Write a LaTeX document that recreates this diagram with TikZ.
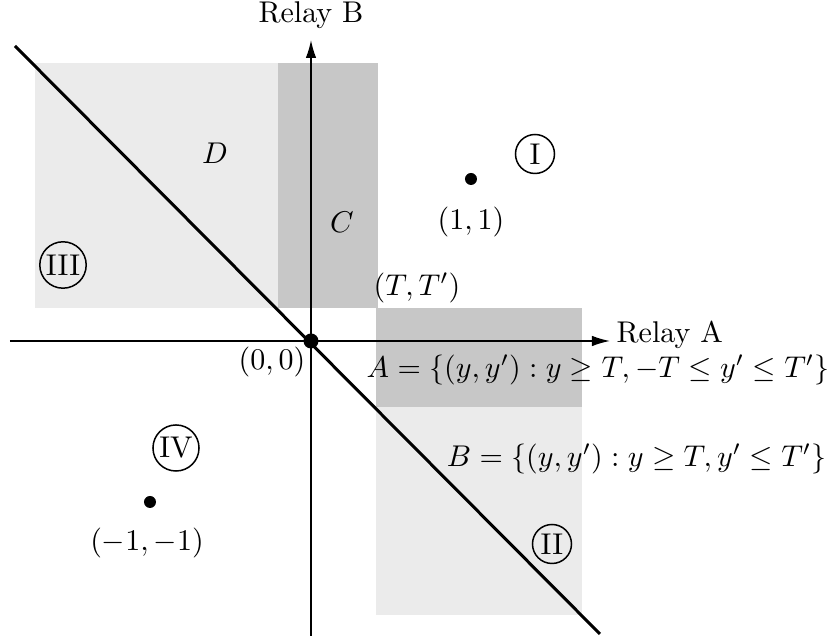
\documentclass[tikz,border=0pt]{standalone}
\usetikzlibrary{arrows.meta}
\definecolor{lightg}{gray}{0.92}
\definecolor{darkg}{gray}{0.78}
\begin{document}
\begin{tikzpicture}[x=0.3333pt,y=-0.3333pt,
  roman/.style={draw,circle,inner sep=0.8pt,minimum size=13pt,line width=0.5pt},
  dotpt/.style={fill,circle,inner sep=0pt,minimum size=4pt},
  axis/.style={line width=0.5pt,-{Latex[length=6pt,width=3.5pt]}},
  lbl/.style={inner sep=0pt}]
\useasboundingbox (0,0) rectangle (831,639);
% regions
\fill[lightg] (35,63) rectangle (278,308);
\fill[darkg] (278,63) rectangle (378,308);
\fill[darkg] (376,308) rectangle (582,407);
\fill[lightg] (376,407) rectangle (582,615);
% axes
\coordinate (xs) at (10,341);
\coordinate (xe) at (610,341);
\coordinate (ys) at (311,636);
\coordinate (ye) at (311,40);
\draw[axis] (xs) -- (xe);
\draw[axis] (ys) -- (ye);
\node[lbl,anchor=west] (ra) at (616,335) {Relay A};
\node[lbl] (rb) at (311,15) {Relay B};
% diagonal
\coordinate (d1) at (15,46);
\coordinate (d2) at (600,634);
\draw[line width=1pt] (d1) -- (d2);
% points
\node[dotpt,minimum size=5pt] (o) at (311,341) {};
\node[dotpt] (p1) at (471,179) {};
\node[dotpt] (pm) at (150,502) {};
\node[lbl] (o-l) at (272,362) {$(0,0)$};
\node[lbl] (p1-l) at (471,222) {$(1,1)$};
\node[lbl] (pm-l) at (147,543) {$(-1,-1)$};
\node[lbl] (tt) at (417,288) {$(T,T')$};
% region labels
\node[lbl] (D) at (215,153) {$D$};
\node[lbl] (C) at (342,222) {$C$};
\node[roman] (r1) at (535,154) {I};
\node[roman] (r2) at (552,544) {II};
\node[roman] (r3) at (63,265) {III};
\node[roman] (r4) at (176,448) {IV};
\node[lbl,anchor=east] (A) at (830,370) {$A=\{(y,y'):y\geq T,-T\leq y'\leq T'\}$};
\node[lbl,anchor=east] (B) at (827,459) {$B=\{(y,y'):y\geq T,y'\leq T'\}$};
\end{tikzpicture}
\end{document}
